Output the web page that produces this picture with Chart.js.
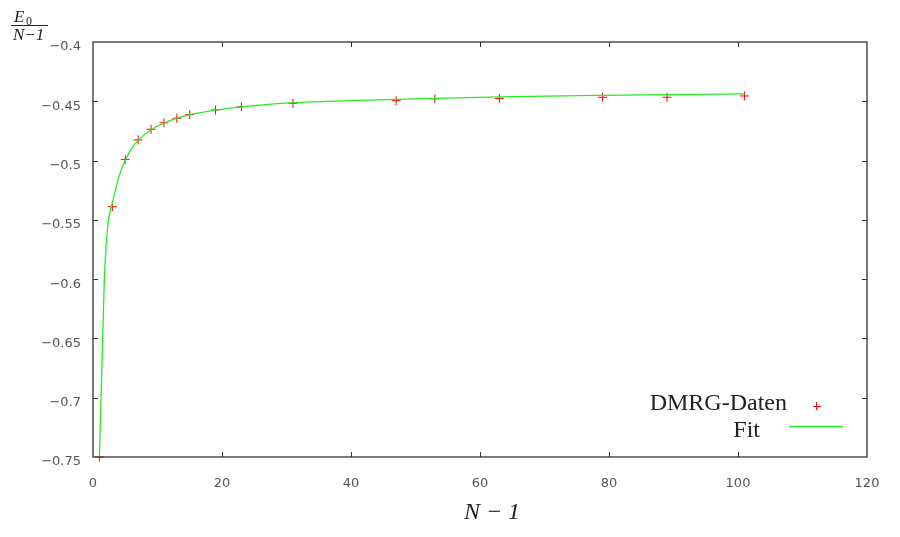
<!DOCTYPE html>
<html>
<head>
<meta charset="utf-8">
<script src="https://cdn.jsdelivr.net/npm/chart.js@4.4.1/dist/chart.umd.min.js"></script>
<style>
  html, body { margin: 0; padding: 0; background: #fff; }
  #wrap { width: 900px; height: 537px; position: relative; }
</style>
</head>
<body>
<div id="wrap"><canvas id="chart"></canvas></div>
<script>
// DMRG ground state energy per bond vs. chain length
var nMinus1 = [1, 3, 5, 7, 9, 11, 13, 15, 19, 23, 31, 47, 53, 63, 79, 89, 101];
var dmrgEnergy = [-0.75, -0.5389, -0.4990, -0.4826, -0.4736, -0.4682, -0.4643, -0.4612,
  -0.4574, -0.4546, -0.4517, -0.4495, -0.4480, -0.4476, -0.4466, -0.4466, -0.4455];

// fit curve
var fitX = [1, 1.25, 1.5, 1.75, 2, 2.4, 3, 4, 5, 6, 7, 9, 11, 13, 15, 19, 23, 31, 40, 50, 63, 79, 89, 101];
var fitY = [-0.75, -0.699, -0.651, -0.601, -0.575, -0.550, -0.536, -0.514, -0.500, -0.490, -0.483,
  -0.474, -0.4685, -0.4643, -0.4613, -0.4575, -0.4548, -0.4512, -0.4495, -0.4480, -0.4463,
  -0.4450, -0.4444, -0.4438];

var xTicks = [0, 20, 40, 60, 80, 100, 120];
var yTicks = [-0.75, -0.7, -0.65, -0.6, -0.55, -0.5, -0.45, -0.4];

var legendLabels = ['DMRG-Daten', 'Fit'];
var xTitle = 'N \u2212 1';
var yTitleTop = 'E';
var yTitleSub = '0';
var yTitleBottom = 'N\u22121';

var serif = '"Liberation Serif", "DejaVu Serif", serif';

function fmt(v) {
  return String(Math.round(v * 100) / 100).replace('-', '\u2212');
}

var gnuplotFrame = {
  id: 'gnuplotFrame',
  afterDraw: function (chart) {
    var c = chart.ctx, a = chart.chartArea;
    var xs = chart.scales.x, ys = chart.scales.y;
    c.save();
    c.strokeStyle = '#333';
    c.lineWidth = 1.3;
    c.strokeRect(a.left, a.top, a.right - a.left, a.bottom - a.top);
    // inward ticks, mirrored
    c.lineWidth = 1;
    c.beginPath();
    xTicks.forEach(function (v) {
      var px = Math.round(xs.getPixelForValue(v)) + 0.5;
      if (px <= a.left + 1 || px >= a.right - 1) return;
      c.moveTo(px, a.bottom); c.lineTo(px, a.bottom - 5);
      c.moveTo(px, a.top); c.lineTo(px, a.top + 5);
    });
    yTicks.forEach(function (v) {
      var py = Math.round(ys.getPixelForValue(v)) + 0.5;
      if (py <= a.top + 1 || py >= a.bottom - 1) return;
      c.moveTo(a.left, py); c.lineTo(a.left + 5, py);
      c.moveTo(a.right, py); c.lineTo(a.right - 5, py);
    });
    c.stroke();

    // legend, inside lower right
    c.fillStyle = '#222';
    c.font = '24px ' + serif;
    c.textAlign = 'right';
    c.textBaseline = 'alphabetic';
    c.fillText(legendLabels[0], 787, 410);
    c.fillText(legendLabels[1], 760, 437);
    c.strokeStyle = '#ff0000';
    c.lineWidth = 1;
    c.beginPath();
    c.moveTo(813, 406.5); c.lineTo(821, 406.5);
    c.moveTo(816.5, 402); c.lineTo(816.5, 410);
    c.stroke();
    c.strokeStyle = 'rgb(40,235,40)';
    c.lineWidth = 1.3;
    c.beginPath();
    c.moveTo(789, 426.5); c.lineTo(843, 426.5);
    c.stroke();

    // x title
    c.font = 'italic 24px ' + serif;
    c.textAlign = 'center';
    c.fillText(xTitle, 492, 519);

    // y title as fraction
    c.font = 'italic 17px ' + serif;
    c.textAlign = 'left';
    c.fillText(yTitleTop, 14, 22);
    c.font = '12px ' + serif;
    c.fillText(yTitleSub, 26, 25);
    c.strokeStyle = '#222';
    c.lineWidth = 1;
    c.beginPath();
    c.moveTo(11, 25.5); c.lineTo(48, 25.5);
    c.stroke();
    c.font = 'italic 17px ' + serif;
    c.fillText(yTitleBottom, 13, 40);
    c.restore();
  }
};

new Chart(document.getElementById('chart').getContext('2d'), {
  type: 'scatter',
  data: {
    datasets: [
      {
        label: legendLabels[0],
        data: nMinus1.map(function (x, i) { return { x: x, y: dmrgEnergy[i] }; }),
        pointStyle: 'crossRot',
        rotation: 45,
        radius: 4.5,
        borderColor: '#ff0000',
        borderWidth: 1,
        backgroundColor: '#ff0000',
        clip: false,
        order: 2
      },
      {
        label: legendLabels[1],
        data: fitX.map(function (x, i) { return { x: x, y: fitY[i] }; }),
        showLine: true,
        cubicInterpolationMode: 'monotone',
        borderColor: 'rgb(40,235,40)',
        borderWidth: 1.3,
        pointRadius: 0,
        order: 1
      }
    ]
  },
  options: {
    responsive: true,
    maintainAspectRatio: false,
    animation: false,
    layout: { padding: { left: 0, right: 33, top: 42, bottom: 0 } },
    plugins: { legend: { display: false }, tooltip: { enabled: false } },
    scales: {
      x: {
        type: 'linear', min: 0, max: 120,
        afterBuildTicks: function (s) { s.ticks = xTicks.map(function (v) { return { value: v }; }); },
        afterFit: function (s) { s.height = 80; },
        grid: { display: false, drawTicks: false },
        border: { display: false },
        ticks: {
          padding: 19, color: '#555', maxRotation: 0,
          font: { family: '"DejaVu Sans", sans-serif', size: 13 },
          callback: function (v) { return fmt(v); }
        }
      },
      y: {
        min: -0.75, max: -0.4,
        afterBuildTicks: function (s) { s.ticks = yTicks.map(function (v) { return { value: v }; }); },
        afterFit: function (s) { s.width = 93; },
        grid: { display: false, drawTicks: false },
        border: { display: false },
        ticks: {
          padding: 12, color: '#555', labelOffset: 5,
          font: { family: '"DejaVu Sans", sans-serif', size: 13 },
          callback: function (v) { return fmt(v); }
        }
      }
    }
  },
  plugins: [gnuplotFrame]
});
</script>
</body>
</html>
